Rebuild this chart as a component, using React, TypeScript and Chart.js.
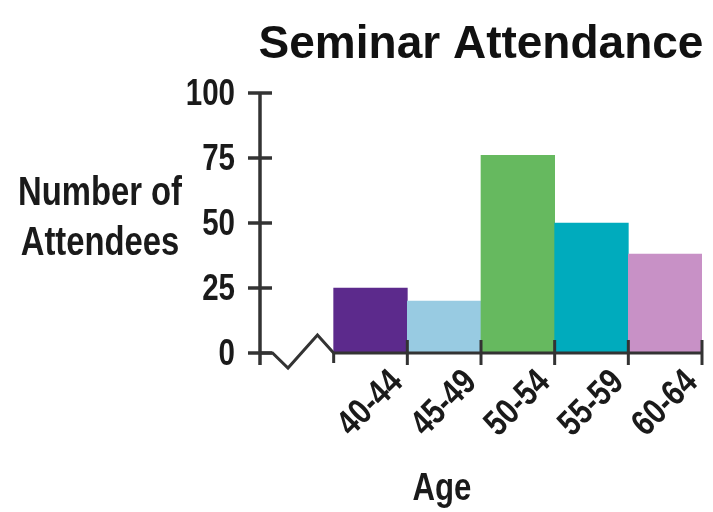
import React, { useEffect, useRef } from "react";
import { Chart, registerables } from "chart.js";

Chart.register(...registerables);

const TITLE = "Seminar Attendance";
const Y_TITLE = ["Number of", "Attendees"];
const X_TITLE = "Age";
// first (blank) category holds the axis break
const categories = ["", "40-44", "45-49", "50-54", "55-59", "60-64"];
const attendees = [null, 25, 20, 76, 50, 38];
const barColors = ["rgba(0,0,0,0)", "#5c2a8c", "#98cbe2", "#66b95f", "#00abbd", "#c891c6"];
const yTickValues = [0, 25, 50, 75, 100];

const SANS = '"Liberation Sans", Arial, sans-serif';
const CONDENSE = 0.82;
const TEXT = "#1a1a1a";
const AXIS = "#333333";

function condensedText(ctx: CanvasRenderingContext2D, text: string, x: number, y: number, rot: number, align: CanvasTextAlign) {
  ctx.save();
  ctx.translate(x, y);
  ctx.rotate(rot);
  ctx.scale(CONDENSE, 1);
  ctx.textAlign = align;
  ctx.fillText(text, 0, 0);
  ctx.restore();
}

const decor = {
  id: "decor",
  afterDatasetsDraw(chart: any) {
    const { ctx, chartArea: ca, scales } = chart;
    const x = scales.x;
    const y = scales.y;
    const y0 = y.getPixelForValue(0);
    const half = (x.getPixelForValue(1) - x.getPixelForValue(0)) / 2;
    const edge = (i: number) => x.getPixelForValue(i) + half;
    ctx.save();
    ctx.strokeStyle = AXIS;
    ctx.lineWidth = 3.5;
    ctx.lineCap = "butt";
    // y axis
    ctx.beginPath();
    ctx.moveTo(ca.left, y.getPixelForValue(yTickValues[yTickValues.length - 1]) - 1);
    ctx.lineTo(ca.left, y0 + 12);
    ctx.stroke();
    yTickValues.forEach((v) => {
      const p = y.getPixelForValue(v);
      ctx.beginPath();
      ctx.moveTo(ca.left - 12, p);
      ctx.lineTo(ca.left + 12, p);
      ctx.stroke();
    });
    // x axis with break
    const bx = edge(0);
    const w = bx - ca.left;
    ctx.lineWidth = 3;
    ctx.lineJoin = "miter";
    ctx.beginPath();
    ctx.moveTo(ca.left, y0);
    ctx.lineTo(ca.left + w * 0.17, y0);
    ctx.lineTo(ca.left + w * 0.38, y0 + 15);
    ctx.lineTo(ca.left + w * 0.78, y0 - 18);
    ctx.lineTo(bx, y0);
    ctx.lineTo(edge(categories.length - 1), y0);
    ctx.stroke();
    ctx.beginPath();
    ctx.moveTo(bx, y0);
    ctx.lineTo(bx, y0 + 10);
    ctx.stroke();
    for (let i = 1; i < categories.length; i++) {
      const px = edge(i);
      ctx.beginPath();
      ctx.moveTo(px, y0 - 13);
      ctx.lineTo(px, y0 + 12);
      ctx.stroke();
    }

    // tick labels (condensed, like the original's narrow typeface)
    ctx.fillStyle = TEXT;
    ctx.textBaseline = "middle";
    ctx.font = "bold 36px " + SANS;
    y.ticks.forEach((t: any) => {
      condensedText(ctx, String(t.value), ca.left - 25, y.getPixelForValue(t.value) + 2, 0, "right");
    });
    ctx.font = "bold 36px " + SANS;
    const labels = x.getLabels();
    labels.forEach((lab: string, i: number) => {
      if (!lab) return;
      condensedText(ctx, lab, edge(i) - 10, y0 + 24, -Math.PI / 4, "right");
    });
    ctx.restore();
  },
  afterDraw(chart: any) {
    const { ctx } = chart;
    ctx.save();
    ctx.fillStyle = "#111";
    ctx.textAlign = "center";
    ctx.textBaseline = "alphabetic";
    ctx.font = "bold 46px " + SANS;
    ctx.fillText(TITLE, 481, 58);
    ctx.fillStyle = TEXT;
    ctx.font = "bold 40px " + SANS;
    condensedText(ctx, Y_TITLE[0], 100, 205, 0, "center");
    condensedText(ctx, Y_TITLE[1], 100, 255, 0, "center");
    ctx.font = "bold 38px " + SANS;
    condensedText(ctx, X_TITLE, 442, 500, 0, "center");
    ctx.restore();
  },
};

export default function App() {
  const ref = useRef<HTMLCanvasElement>(null);
  useEffect(() => {
    if (!ref.current) return;
    const chart = new Chart(ref.current, {
      type: "bar",
      data: {
        labels: categories,
        datasets: [
          {
            data: attendees as any,
            backgroundColor: barColors,
            borderWidth: 0,
            barPercentage: 1,
            categoryPercentage: 1,
          },
        ],
      },
      options: {
        animation: false,
        responsive: true,
        maintainAspectRatio: false,
        layout: { padding: { top: 93, right: 11, bottom: 0, left: 0 } },
        plugins: {
          legend: { display: false },
          title: { display: false },
          tooltip: { enabled: false },
        },
        scales: {
          x: {
            type: "category",
            offset: true,
            grid: { display: false, drawTicks: false },
            border: { display: false },
            ticks: { display: false, autoSkip: false },
            afterFit: (s: any) => {
              s.height = 159;
              s.paddingLeft = 0;
              s.paddingRight = 0;
            },
          },
          y: {
            min: 0,
            max: 100,
            grid: { display: false, drawTicks: false },
            border: { display: false },
            ticks: { display: false, stepSize: 25 },
            afterFit: (s: any) => {
              s.width = 260;
              s.paddingTop = 0;
              s.paddingBottom = 0;
            },
          },
        },
      },
      plugins: [decor],
    });
    return () => chart.destroy();
  }, []);
  return (
    <div style={{ position: "fixed", left: 0, top: 0, width: 713, height: 512, background: "#fff" }}>
      <canvas ref={ref} />
    </div>
  );
}
